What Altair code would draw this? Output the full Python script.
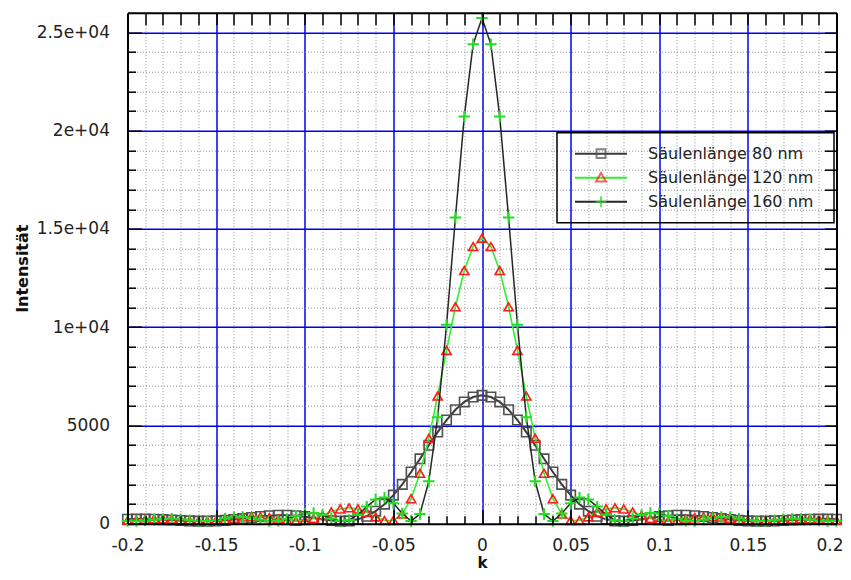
import altair as alt
import pandas as pd

# ---------------- data ----------------
names = ["Säulenlänge 80 nm", "Säulenlänge 120 nm", "Säulenlänge 160 nm"]

# k grid: -0.2 ... 0.2, step 0.005
k = [round(-0.2 + 0.005 * i, 3) for i in range(81)]

# intensities for k = 0, 0.005, ..., 0.2 (curves are symmetric about k = 0)
half80 = [6530, 6445, 6196, 5798, 5276, 4662, 3991, 3301, 2628, 2003, 1453, 994, 637, 382,
          222, 144, 132, 166, 227, 296, 359, 406, 429, 429, 406, 365, 315, 261, 211, 171,
          144, 131, 132, 144, 164, 186, 208, 224, 234, 235, 228]
half120 = [14530, 14103, 12883, 11039, 8817, 6498, 4345, 2563, 1271, 491, 162, 163, 348, 578,
           750, 810, 750, 605, 425, 264, 161, 130, 162, 231, 305, 355, 366, 337, 279, 214,
           160, 133, 135, 161, 198, 231, 249, 246, 223, 191, 159]
half160 = [25730, 24394, 20714, 15574, 10122, 5422, 2158, 496, 139, 517, 1046, 1327, 1233,
           869, 455, 186, 139, 265, 441, 545, 522, 395, 243, 145, 138, 206, 292, 341, 326,
           259, 181, 135, 138, 182, 232, 258, 245, 203, 156, 131, 138]

series_vals = [half[:0:-1] + half for half in (half80, half120, half160)]

x_major_all = [-0.2, -0.15, -0.1, -0.05, 0, 0.05, 0.1, 0.15, 0.2]
x_major_inner = [-0.15, -0.1, -0.05, 0, 0.05, 0.1, 0.15]
x_minor = [round(-0.2 + 0.01 * i, 2) for i in range(41) if i % 5 != 0]
x_all_inner = [round(-0.2 + 0.01 * i, 2) for i in range(1, 40)]

y_major_all = [0, 5000, 10000, 15000, 20000, 25000]
y_major_labels = ["0", "5000", "1e+04", "1.5e+04", "2e+04", "2.5e+04"]
y_major_inner = [5000, 10000, 15000, 20000, 25000]
y_minor = [1000 * i for i in range(1, 26) if i % 5 != 0]
y_all_inner = [1000 * i for i in range(1, 26)]

rows = []
for name, vals in zip(names, series_vals):
    for kk, vv in zip(k, vals):
        rows.append({"k": kk, "v": vv, "series": name, "mk": "p" + name.split()[1]})
df = pd.DataFrame(rows)

# ---------------- styling ----------------
FONT = "DejaVu Sans"
line_colors = ["#3a3a3a", "#33ee33", "#262626"]
line_widths = [2.0, 1.6, 1.5]
marker_shapes = ["square", "triangle-up", "M-1,0H1M0,-1V1"]
marker_colors = ["#505050", "#ff1a1a", "#22dd22"]
marker_sizes = [90, 85, 130]
marker_sw = [1.6, 1.6, 2.0]
mk_domain = ["p80", "p120", "p160"]
legend_paths = ["M-0.17,-0.17H0.17V0.17H-0.17Z",
                "M0,-0.18L0.19,0.15L-0.19,0.15Z",
                "M-0.21,0H0.21M0,-0.21V0.21"]

xs = alt.Scale(domain=[-0.2, 0.2], nice=False, zero=False)
ys = alt.Scale(domain=[0, 26000], nice=False, zero=False)

LX, LY = 429.5, 120


def ax(orient, values, **kw):
    base = dict(orient=orient, values=values, grid=False, ticks=False, labels=False,
                domain=False, title=None)
    base.update(kw)
    return alt.Axis(**base)


def axis_layer(xaxis, yaxis):
    return alt.Chart(df).mark_point(opacity=0).encode(
        x=alt.X("k:Q", scale=xs, axis=xaxis),
        y=alt.Y("v:Q", scale=ys, axis=yaxis),
    ).transform_filter("false")


grid_minor = dict(grid=True, gridColor="#909090", gridDash=[1, 2], gridWidth=1)
grid_major = dict(grid=True, gridColor="#0000f0", gridWidth=1.5)
frame = dict(domain=True, domainColor="#000000", domainWidth=2)


def tk(size):
    return dict(ticks=True, tickSize={"expr": str(-size)}, tickColor="#000000",
                tickWidth=1.5, zindex=1)


ylabel_expr = " : ".join(
    f"datum.value == {v} ? '{t}'" for v, t in zip(y_major_all, y_major_labels)
) + " : ''"

label_style = dict(labels=True, labelFont=FONT, labelFontSize=17, labelColor="#222222",
                   labelFlush=False, labelOverlap=False, labelBound=False,
                   titleFont=FONT, titleFontWeight="bold",
                   titleColor="#111111", titleBaseline="alphabetic")

layers = [
    axis_layer(ax("bottom", x_minor, **grid_minor), ax("left", y_minor, **grid_minor)),
    axis_layer(ax("bottom", x_major_inner, **grid_major), ax("left", y_major_inner, **grid_major)),
    axis_layer(ax("bottom", x_minor, **tk(8), **frame), ax("left", y_minor, **tk(8), **frame)),
    axis_layer(ax("bottom", x_major_inner, **tk(14)), ax("left", y_major_inner, **tk(14))),
    axis_layer(ax("top", x_all_inner, **tk(12), **frame), ax("right", y_all_inner, **tk(12), **frame)),
    axis_layer(
        ax("bottom", x_major_all, labelExpr="'' + datum.value", labelPadding=14,
           labelOffset={"condition": {"test": "datum.value >= 0.2", "value": -7}, "value": 0},
           title="k", titleY=44, titleFontSize=15, **label_style),
        ax("left", y_major_all, labelExpr=ylabel_expr, labelPadding=18,
           title="Intensität", titleX=-100, titleFontSize=16, **label_style),
    ),
]

# two no-break spaces kept from trimming by a trailing zero-width space widen the box
line_legend = alt.Legend(
    title=None, orient="none", legendX=LX, legendY=LY, padding=10,
    symbolType="M-1,0H1", symbolSize=2704, symbolStrokeWidth=2, symbolOffset=7,
    labelOffset=20, clipHeight=22, rowPadding=2, labelFont=FONT, labelFontSize=16,
    labelColor="#222222", labelLimit=400,
    labelExpr="datum.label + '\u00a0\u00a0\u200b'",
    strokeColor="#000000",
)
marker_legend = alt.Legend(
    title=None, orient="none", legendX=LX, legendY=LY, padding=10,
    symbolSize=2704, symbolStrokeWidth=2, symbolOffset=7, labelOffset=20,
    clipHeight=22, rowPadding=2, labelFont=FONT, labelFontSize=16, labelExpr="''",
    symbolFillColor="transparent",
)

color_enc = alt.Color("series:N", scale=alt.Scale(domain=names, range=line_colors),
                      legend=line_legend)

for i, name in enumerate(names):
    sub = alt.Chart(df).transform_filter(alt.datum.series == name)
    layers.append(
        sub.mark_line(strokeWidth=line_widths[i]).encode(
            x=alt.X("k:Q", scale=xs, axis=None),
            y=alt.Y("v:Q", scale=ys, axis=None),
            color=color_enc,
        )
    )
    layers.append(
        sub.mark_point(shape=marker_shapes[i], filled=False, size=marker_sizes[i],
                       stroke=marker_colors[i], strokeWidth=marker_sw[i], opacity=1).encode(
            x=alt.X("k:Q", scale=xs, axis=None),
            y=alt.Y("v:Q", scale=ys, axis=None),
        )
    )

# legend-only layer for the markers (draws no marks itself)
layers.append(
    alt.Chart(df).mark_point(filled=False).encode(
        shape=alt.Shape("mk:N", scale=alt.Scale(domain=mk_domain, range=legend_paths),
                        legend=marker_legend),
        stroke=alt.Stroke("mk:N", scale=alt.Scale(domain=mk_domain, range=marker_colors),
                          legend=marker_legend),
    ).transform_filter("false")
)

chart = alt.layer(*layers).resolve_axis(x="independent", y="independent").properties(
    width=709, height=511,
    autosize=alt.AutoSizeParams(type="none"),
    padding={"left": 119.5, "top": 4.7, "right": 6, "bottom": 48.3},
    background="white",
).configure_view(stroke=None).configure_legend(strokeWidth=1.5)

chart.save("out.html", embed_options={"renderer": "svg", "actions": False})
